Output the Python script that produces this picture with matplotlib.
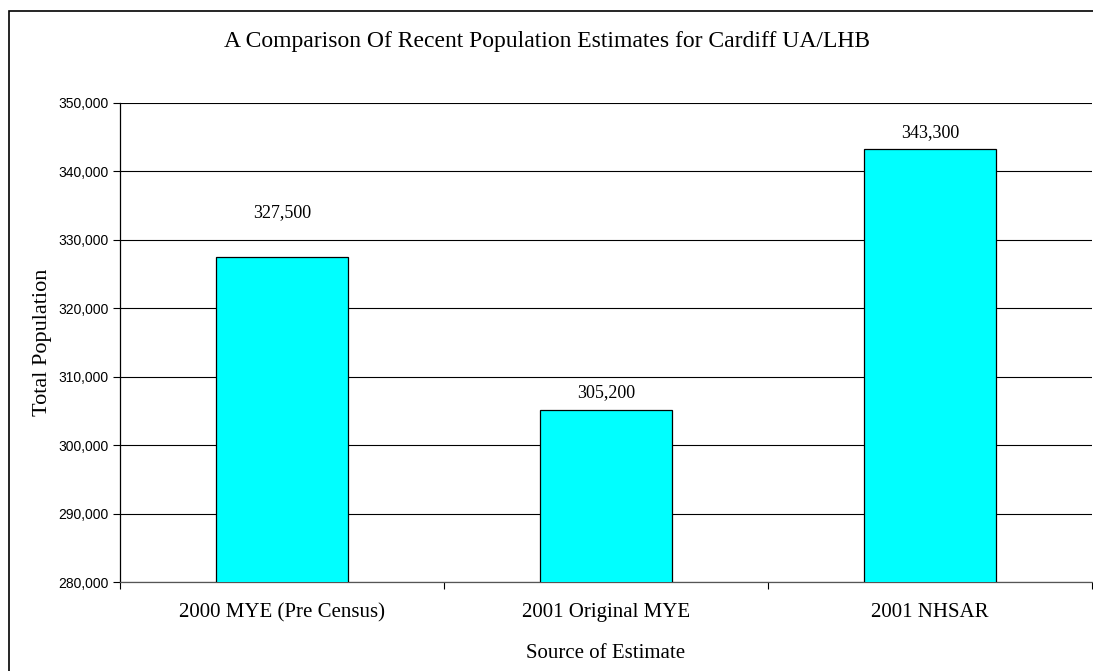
import numpy as np
import matplotlib
matplotlib.use("Agg")
import matplotlib.pyplot as plt
from matplotlib.patches import Rectangle
from matplotlib.ticker import FuncFormatter, FixedLocator

# data
categories = ["2000 MYE (Pre Census)", "2001 Original MYE", "2001 NHSAR"]
population = [327500, 305200, 343300]
y_ticks = list(range(280000, 350001, 10000))

# label offsets above bar tops (points), as placed in the original
label_offsets = [32, 12, 12]

serif = "Liberation Serif"
sans = "Liberation Sans"

fig = plt.figure(figsize=(10.93, 6.71), dpi=100)
# outer chart frame (right / bottom edges sit off the image)
fig.patches.append(Rectangle((9 / 1093, -0.1), 1.2, 1 - 11 / 671 + 0.1,
                             transform=fig.transFigure, fill=False,
                             edgecolor="black", linewidth=1.2))

ax = fig.add_axes([120 / 1093, 1 - 582 / 671, (1092 - 120) / 1093, (582 - 103) / 671])
x = np.arange(len(categories))
bars = ax.bar(x, population, width=0.405, color="#00FFFF", edgecolor="black",
              linewidth=0.9, zorder=3)

ax.set_xlim(-0.5, len(categories) - 0.5)
ax.set_ylim(280000, 350000)
ax.yaxis.set_major_locator(FixedLocator(y_ticks))
ax.yaxis.set_major_formatter(FuncFormatter(lambda v, p: f"{int(v):,}"))
ax.grid(axis="y", color="black", linewidth=0.8, zorder=0)

for b, v, off in zip(bars, population, label_offsets):
    ax.annotate(f"{v:,}", (b.get_x() + b.get_width() / 2, v),
                xytext=(0, off), textcoords="offset points", ha="center", va="center",
                fontsize=13, family=serif)

ax.set_xticks(x)
ax.set_xticklabels(categories, fontsize=15, family=serif)
ax.xaxis.set_minor_locator(FixedLocator(np.arange(-0.5, len(categories), 1.0)))
ax.tick_params(axis="x", which="major", length=0, pad=15)
ax.tick_params(axis="x", which="minor", length=5, width=0.8, direction="out")
ax.tick_params(axis="y", length=5, width=0.8, direction="out", pad=3, labelsize=10)
for lab in ax.get_yticklabels():
    lab.set_family(sans)

for s in ["top", "right"]:
    ax.spines[s].set_visible(False)
ax.spines["left"].set_linewidth(0.9)
ax.spines["bottom"].set_linewidth(0.9)
ax.spines["bottom"].set_color("#555555")

ax.set_xlabel("Source of Estimate", fontsize=15, family=serif, labelpad=16)
ax.set_ylabel("Total Population", fontsize=16, family=serif, labelpad=5)
fig.text(0.5, 1 - 41 / 671, "A Comparison Of Recent Population Estimates for Cardiff UA/LHB",
         ha="center", va="center", fontsize=17, family=serif)

fig.savefig("out.png", dpi=100)
